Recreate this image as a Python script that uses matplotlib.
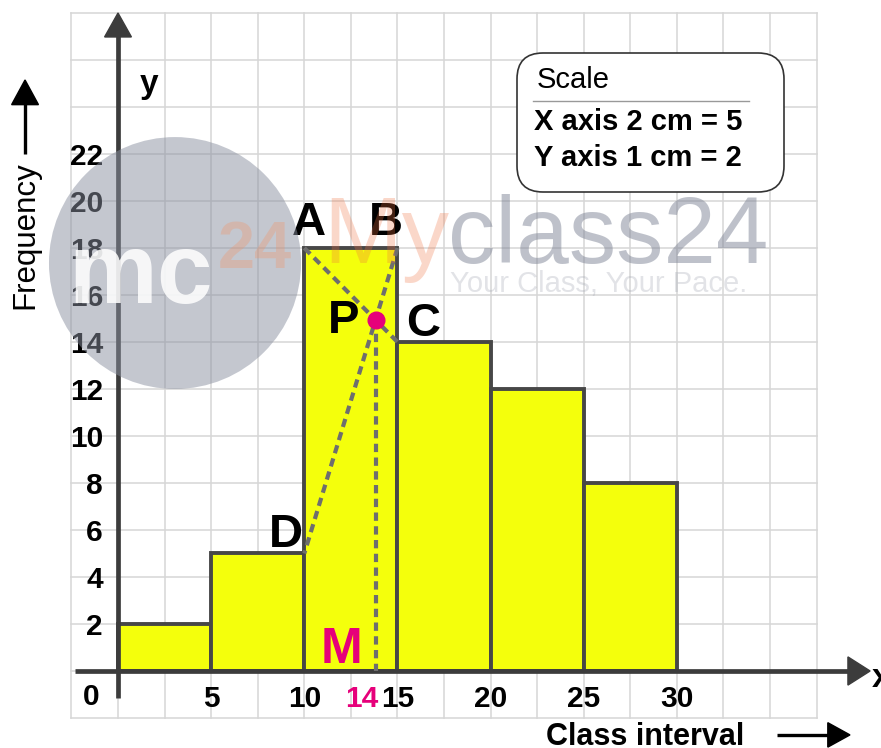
import numpy as np
import matplotlib
matplotlib.use("Agg")
import matplotlib.pyplot as plt
from matplotlib.patches import Ellipse, FancyBboxPatch

plt.rcParams['font.family'] = ['Liberation Sans', 'DejaVu Sans']

# histogram data
edges = [0, 5, 10, 15, 20, 25, 30]
freq = [2, 5, 18, 14, 12, 8]
xticks = [5, 10, 15, 20, 25, 30]
yticks = [2, 4, 6, 8, 10, 12, 14, 16, 18, 20, 22]
scale_lines = ["X axis 2 cm = 5", "Y axis 1 cm = 2"]

YEL = "#f4ff0c"
EDGE = "#474747"
AX = "#3c3c3c"
MAG = "#e6007a"
GRID = "#d6d6d6"

fig = plt.figure(figsize=(8.81, 7.48), dpi=100)
ax = fig.add_axes([0, 0, 1, 1])
ax.set_xlim(-6.334, 40.955)
ax.set_ylim(-3.277, 28.553)
ax.axis("off")

# graph paper
for gx in np.arange(-2.5, 37.6, 2.5):
    ax.plot([gx, gx], [-2, 28], color=GRID, lw=1.1, zorder=0)
for gy in np.arange(-2, 28.1, 2):
    ax.plot([-2.5, 37.5], [gy, gy], color=GRID, lw=1.1, zorder=0)

# bars
ax.bar(edges[:-1], freq, width=np.diff(edges), align="edge", color=YEL,
       edgecolor=EDGE, lw=2.8, zorder=2)

# axes with arrow heads (sizes in data units)
ax.plot([0, 0], [-1.15, 27.0], color=AX, lw=3.4, zorder=3, solid_capstyle="butt")
ax.fill([-0.72, 0.72, 0], [26.98, 26.98, 28.0], color=AX, zorder=3)
ax.plot([-2.31, 39.2], [0, 0], color=AX, lw=3.4, zorder=3, solid_capstyle="butt")
ax.fill([39.18, 39.18, 40.37], [-0.6, 0.6, 0], color=AX, zorder=3)

# construction for the mode
i = int(np.argmax(freq))
A = (edges[i], freq[i])
B = (edges[i + 1], freq[i])
C = (edges[i + 1], freq[i + 1])
D = (edges[i], freq[i - 1])
s1 = (C[1] - A[1]) / (C[0] - A[0])
s2 = (B[1] - D[1]) / (B[0] - D[0])
px = (D[1] - A[1] + s1 * A[0] - s2 * D[0]) / (s1 - s2)
py = A[1] + s1 * (px - A[0])

dash = dict(color="#6e6e6e", lw=3.0, dashes=(2.0, 1.3), zorder=4)
ax.plot([A[0], C[0]], [A[1], C[1]], **dash)
ax.plot([B[0], D[0]], [B[1], D[1]], **dash)
ax.plot([px, px], [py, 0], **dash)
ax.plot(px, py, "o", color=MAG, ms=12, zorder=5)

lab = dict(fontsize=34, fontweight="bold", ha="center", va="baseline", zorder=6)
ax.text(10.25, 18.55, "A", **lab)
ax.text(14.39, 18.55, "B", **lab)
ax.text(12.13, 14.38, "P", **lab)
ax.text(16.37, 14.25, "C", **lab)
ax.text(9.02, 5.28, "D", **lab)
ax.text(12.02, 0.34, "M", color=MAG, **{**lab, "fontsize": 36})

# tick labels
TK = 21.5
for v in yticks:
    ax.text(-0.8, v - 0.45, str(v), fontsize=TK, fontweight="bold",
            ha="right", va="baseline")
for v in xticks:
    ax.text(v, -1.52, str(v), fontsize=TK, fontweight="bold",
            ha="center", va="baseline")
ax.text(-1.45, -1.45, "0", fontsize=TK, fontweight="bold", ha="center", va="baseline")
ax.text(round(px), -1.52, str(int(round(px))), fontsize=TK, fontweight="bold",
        color=MAG, ha="right", va="baseline")

ax.text(1.66, 24.6, "y", fontsize=24, fontweight="bold", ha="center", va="baseline")
ax.text(40.47, -0.68, "x", fontsize=24, fontweight="bold", ha="left", va="baseline")

# axis titles with arrows
ax.text(-4.99, 18.55, "Frequency", fontsize=22.5, rotation=90, ha="center", va="center")
ax.plot([-4.99, -4.99], [22.0, 24.2], color="black", lw=2.4, solid_capstyle="butt")
ax.fill([-5.71, -4.27, -4.99], [24.1, 24.1, 25.15], color="black")
ax.text(28.29, -3.15, "Class interval", fontsize=22, fontweight="bold",
        ha="center", va="baseline")
ax.plot([35.37, 38.2], [-2.72, -2.72], color="black", lw=2.4, solid_capstyle="butt")
ax.fill([38.1, 38.1, 39.29], [-2.2, -3.24, -2.72], color="black")

# scale box
box = FancyBboxPatch((5.17, 5.56), 2.67, 1.39, boxstyle="round,pad=0,rounding_size=0.26",
                     transform=fig.dpi_scale_trans, fc="white", ec="#333333", lw=1.2,
                     zorder=6)
ax.add_patch(box)
ax.text(22.49, 25.15, "Scale", fontsize=21, ha="left", va="center", zorder=7)
ax.plot([22.28, 33.87], [24.26, 24.26], color="#999999", lw=1.0, zorder=7)
ax.text(22.33, 23.36, scale_lines[0], fontsize=21, fontweight="bold",
        ha="left", va="center", zorder=7)
ax.text(22.33, 21.83, scale_lines[1], fontsize=21, fontweight="bold",
        ha="left", va="center", zorder=7)

# watermark
ax.add_patch(Ellipse((3.06, 17.36), 13.53, 10.72, color="#8a90a0", alpha=0.5,
                     lw=0, zorder=8))
ax.text(1.2, 15.66, "mc", fontsize=72, fontweight="bold", color="white",
        alpha=0.85, ha="center", va="baseline", zorder=9)
ax.text(5.37, 17.15, "24", fontsize=48, fontweight="bold", color="#f59060",
        alpha=0.3, ha="left", va="baseline", zorder=9)
ax.text(11.0, 17.36, "My", fontsize=68, color="#f07040", alpha=0.28,
        ha="left", va="baseline", zorder=9)
ax.text(17.71, 17.36, "class24", fontsize=68, color="#7f8596", alpha=0.5,
        ha="left", va="baseline", zorder=9)
ax.text(17.82, 16.13, "Your Class, Your Pace.", fontsize=21, color="#a0a4b0",
        alpha=0.3, ha="left", va="baseline", zorder=9)

fig.savefig("out.png", dpi=100)
